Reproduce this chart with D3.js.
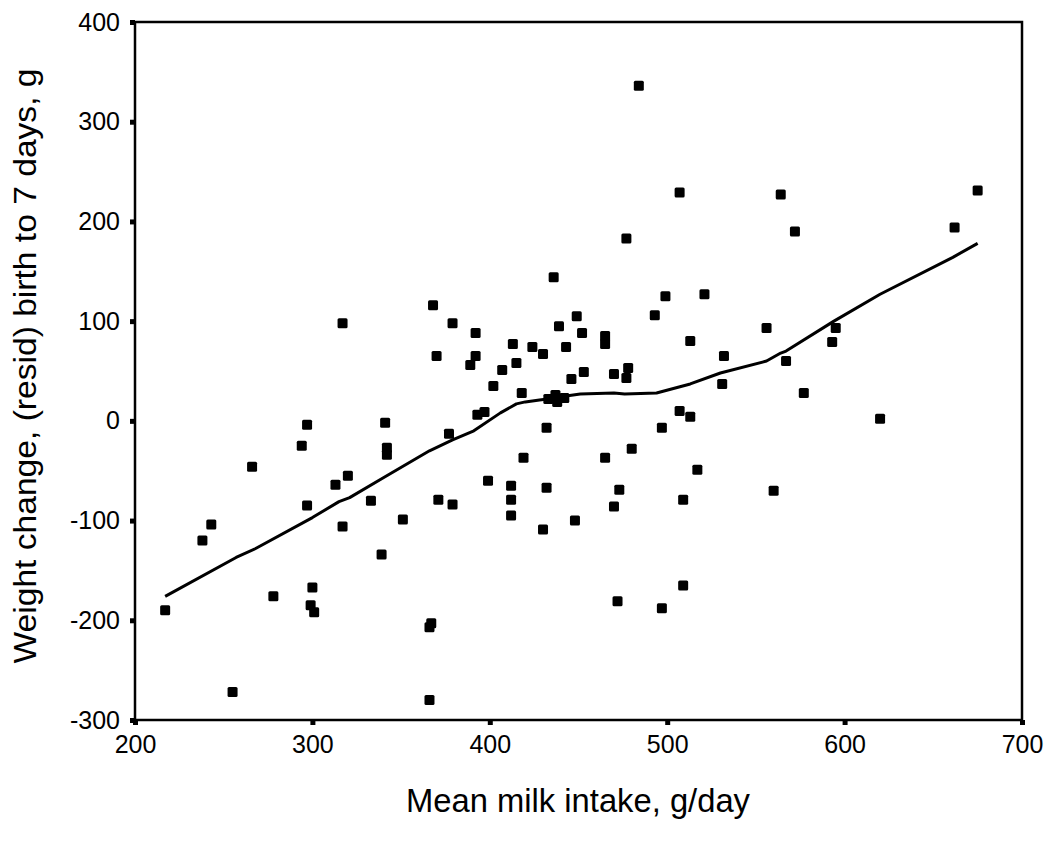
<!DOCTYPE html>
<html>
<head>
<meta charset="utf-8">
<script src="https://cdn.jsdelivr.net/npm/d3@7"></script>
<style>
  html, body { margin: 0; padding: 0; background: #fff; }
  svg { display: block; }
  text { font-family: Arial, "Liberation Sans", sans-serif; fill: #000; }
</style>
</head>
<body>
<svg id="chart" width="1053" height="842"></svg>
<script>
// Data
const milkIntake = [217,238,243,266,255,278,294,297,297,300,299,301,313,320,317,317,333,339,341,342,342,351,366,367,366,377,371,379,399,393,397,402,407,389,415,418,412,412,412,419,432,432,430,446,448,433,437,438,442,436,368,379,392,370,392,413,424,430,439,443,449,452,484,507,564,675,477,572,662,499,521,493,556,595,593,465,465,513,532,567,453,470,478,477,531,577,620,507,513,497,480,465,517,473,560,509,470,509,472,497];
const weightChange = [-190,-120,-104,-46,-272,-176,-25,-4,-85,-167,-185,-192,-64,-55,-106,98,-80,-134,-2,-27,-34,-99,-207,-203,-280,-13,-79,-84,-60,6,9,35,51,56,58,28,-65,-79,-95,-37,-7,-67,-109,42,-100,22,26,19,23,144,116,98,88,65,65,77,74,67,95,74,105,88,336,229,227,231,183,190,194,125,127,106,93,93,79,85,77,80,65,60,49,47,53,43,37,28,2,10,4,-7,-28,-37,-49,-69,-70,-79,-86,-165,-181,-188];
const smoothX = [217,257,268,300,315,321,340,366,379,391,406,415,420,428,437,443,451,470,476,494,513,530,556,560,564,567,594,620,661,675];
const smoothY = [-176,-137,-128,-97,-81,-77,-57,-30,-19,-10,8,17,19,21,23,25,27,28,27,28,37,48,60,64,68,70,100,127,164,178];
const xTicks = [200,300,400,500,600,700];
const yTicks = [-300,-200,-100,0,100,200,300,400];
const xTitle = "Mean milk intake, g/day";
const yTitle = "Weight change, (resid) birth to 7 days, g";

const svg = d3.select("#chart");
const x = d3.scaleLinear().domain([200,700]).range([135,1022]);
const y = d3.scaleLinear().domain([-300,400]).range([720,22]);

// frame
svg.append("rect")
  .attr("x", x(200)).attr("y", y(400))
  .attr("width", x(700)-x(200)).attr("height", y(-300)-y(400))
  .attr("fill","none").attr("stroke","#000").attr("stroke-width",2.5);

const fmt = d => String(d);

// axes
const yAxis = d3.axisLeft(y).tickValues(yTicks).tickSize(5).tickPadding(10).tickFormat(fmt);
const gy = svg.append("g").attr("transform",`translate(${x(200)},0)`).call(yAxis);
gy.attr("font-family", null).attr("font-size", null);
gy.select(".domain").remove();
gy.selectAll(".tick line").attr("stroke","#000").attr("stroke-width",5);
gy.selectAll(".tick text").style("font-size","25px");

const xAxis = d3.axisBottom(x).tickValues(xTicks).tickSize(5).tickPadding(10).tickFormat(fmt);
const gx = svg.append("g").attr("transform",`translate(0,${y(-300)})`).call(xAxis);
gx.attr("font-family", null).attr("font-size", null);
gx.select(".domain").remove();
gx.selectAll(".tick line").attr("stroke","#000").attr("stroke-width",5);
gx.selectAll(".tick text").style("font-size","25px");

// smooth line
const pts = smoothX.map((d,i)=>[d, smoothY[i]]);
svg.append("path")
  .attr("d", d3.line().x(d=>x(d[0])).y(d=>y(d[1])).curve(d3.curveLinear)(pts))
  .attr("fill","none").attr("stroke","#000").attr("stroke-width",3).attr("stroke-linejoin","round");

// points
const s = 10;
svg.append("g").selectAll("rect").data(milkIntake.map((d,i)=>[d, weightChange[i]]))
  .join("rect")
  .attr("x", d=>x(d[0])-s/2).attr("y", d=>y(d[1])-s/2)
  .attr("width", s).attr("height", s).attr("rx",1.5)
  .attr("fill","#000");

// titles
svg.append("text")
  .attr("x", 578).attr("y", 812)
  .attr("text-anchor","middle")
  .attr("textLength", 344).attr("lengthAdjust","spacingAndGlyphs")
  .style("font-size","33px")
  .text(xTitle);

svg.append("text")
  .attr("transform","translate(36,366) rotate(-90)")
  .attr("text-anchor","middle")
  .attr("textLength", 595).attr("lengthAdjust","spacingAndGlyphs")
  .style("font-size","32px")
  .text(yTitle);
</script>
</body>
</html>
